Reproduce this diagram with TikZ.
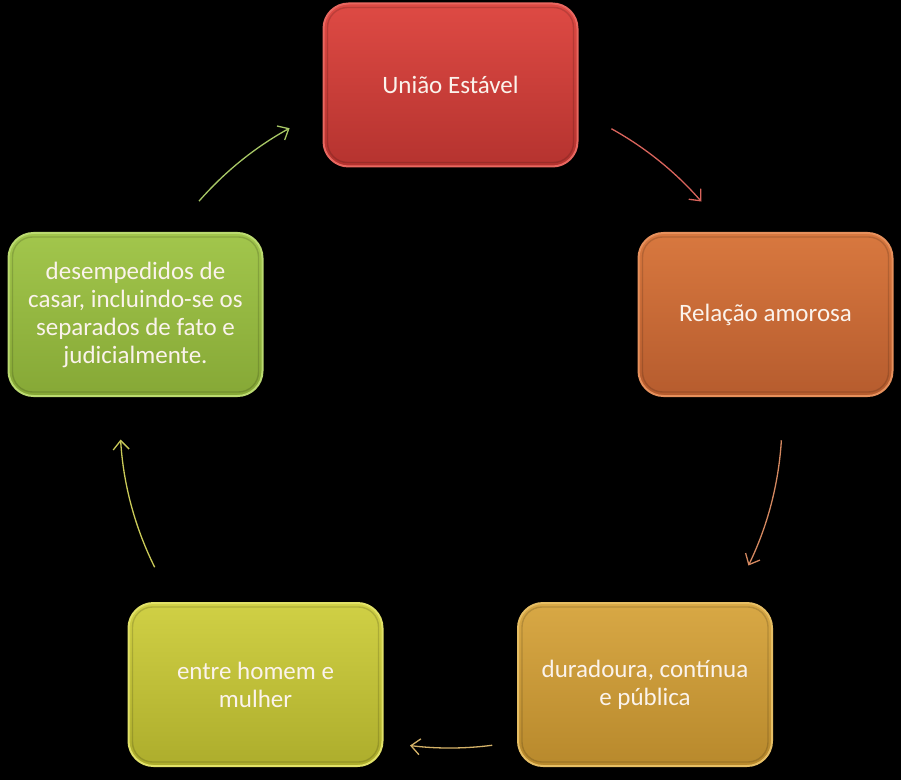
\documentclass[tikz,border=0pt]{standalone}
\usepackage{fontspec}
\setmainfont{Carlito}
\usetikzlibrary{arrows.meta,calc}
\definecolor{redT}{HTML}{DE4A44}\definecolor{redB}{HTML}{B5332F}\definecolor{redR}{HTML}{F07A72}\definecolor{redA}{HTML}{D9645C}
\definecolor{orgT}{HTML}{D8783F}\definecolor{orgB}{HTML}{B65C2E}\definecolor{orgR}{HTML}{F0A070}\definecolor{orgA}{HTML}{D48860}
\definecolor{golT}{HTML}{D8A845}\definecolor{golB}{HTML}{B8892C}\definecolor{golR}{HTML}{F0CC78}\definecolor{golA}{HTML}{D4B268}
\definecolor{ylwT}{HTML}{D0D045}\definecolor{ylwB}{HTML}{ADAD2C}\definecolor{ylwR}{HTML}{ECEC80}\definecolor{ylwA}{HTML}{CACA58}
\definecolor{grnT}{HTML}{A2C64C}\definecolor{grnB}{HTML}{86A836}\definecolor{grnR}{HTML}{CCE888}\definecolor{grnA}{HTML}{A8C866}
\definecolor{txtc}{HTML}{FBF3EC}
\tikzset{
  cyclebox/.style={rounded corners=25pt, minimum width=254pt, minimum height=163pt,
    align=center, text=txtc, font=\fontsize{25pt}{28pt}\selectfont, line width=2pt, inner sep=0pt},
  rim/.style={rounded corners=20pt, line width=1.4pt, draw=black, draw opacity=0.15},
  cyc/.style={line width=1.3pt, -{Straight Barb[length=9pt,width=16pt,line width=1.3pt]}}
}
\begin{document}
\begin{tikzpicture}[x=1pt,y=1pt]
\fill[black] (0,0) rectangle (901,780);
\useasboundingbox (0,0) rectangle (901,780);
\coordinate (ctr) at (450,360);
\node[cyclebox, top color=redT, bottom color=redB, draw=redR!60!redT] (b1) at (450.5,695) {União Estável};
\node[cyclebox, top color=orgT, bottom color=orgB, draw=orgR!60!orgT] (b2) at (765.5,465.5) {Relação amorosa};
\node[cyclebox, top color=golT, bottom color=golB, draw=golR!60!golT] (b3) at (645,95.5) {duradoura, contínua\\e pública};
\node[cyclebox, top color=ylwT, bottom color=ylwB, draw=ylwR!60!ylwT] (b4) at (255.5,95.5) {entre homem e\\mulher};
\node[cyclebox, top color=grnT, bottom color=grnB, draw=grnR!60!grnT] (b5) at (135.5,465.5) {desempedidos de\\casar, incluindo-se os\\separados de fato e\\judicialmente.};
\foreach \b in {b1,b2,b3,b4,b5}{
  \draw[rim] ([shift={(5,-5)}]\b.north west) rectangle ([shift={(-5,5)}]\b.south east);
}
\coordinate (s1) at ($(ctr)+(61:333)$);
\coordinate (s2) at ($(ctr)+(-3.5:332)$);
\coordinate (s3) at ($(ctr)+(-82.6:328)$);
\coordinate (s4) at ($(ctr)+(206.5:330)$);
\coordinate (s5) at ($(ctr)+(138.9:333)$);
\draw[cyc, draw=redA] (s1) arc[start angle=61, end angle=41, radius=333];
\draw[cyc, draw=orgA] (s2) arc[start angle=-3.5, end angle=-26, radius=332];
\draw[cyc, draw=golA] (s3) arc[start angle=-82.6, end angle=-97, radius=328];
\draw[cyc, draw=ylwA] (s4) arc[start angle=206.5, end angle=183.4, radius=330];
\draw[cyc, draw=grnA] (s5) arc[start angle=138.9, end angle=118.8, radius=333];
\end{tikzpicture}
\end{document}
